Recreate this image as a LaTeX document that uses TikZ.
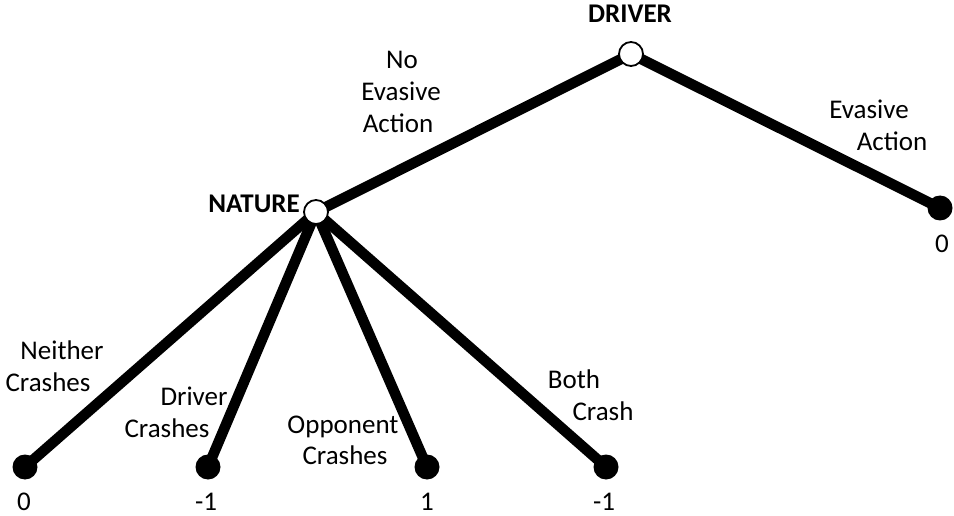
\documentclass[tikz,border=0pt]{standalone}
\usepackage{fontspec}
\setmainfont{Carlito}
\begin{document}
\begin{tikzpicture}[x=1pt,y=-1pt,
  branch/.style={line width=10.5pt},
  decision/.style={circle,draw=black,fill=white,line width=1.8pt,minimum size=24pt,inner sep=0pt},
  leaf/.style={circle,fill=black,minimum size=25pt,inner sep=0pt},
  lbl/.style={font=\fontsize{27}{32}\selectfont,inner sep=0pt,anchor=base},
  playername/.style={font=\fontsize{27}{32}\selectfont\bfseries,inner sep=0pt,anchor=base}]
\useasboundingbox (0,0) rectangle (954,516);

% decision nodes
\coordinate (driver) at (631,54);
\coordinate (nature) at (316,212);
% terminal nodes
\coordinate (evade) at (940,208);
\coordinate (l1) at (25,467);
\coordinate (l2) at (208,467);
\coordinate (l3) at (427,467);
\coordinate (l4) at (606,467);

% branches
\draw[branch] (driver) -- (nature);
\draw[branch] (driver) -- (evade);
\foreach \t in {l1,l2,l3,l4} \draw[branch] (nature) -- (\t);

\node[decision] (dn) at (driver) {};
\node[decision] (nn) at (nature) {};
\node[leaf] (ev) at (evade) {};
\node[leaf] (n1) at (l1) {};
\node[leaf] (n2) at (l2) {};
\node[leaf] (n3) at (l3) {};
\node[leaf] (n4) at (l4) {};

% player names
\node[playername] (dlab) at (630,23) {DRIVER};
\node[playername,anchor=base east] (nlab) at (300,212) {NATURE};

% branch labels, one node per line
\node[lbl] (a1a) at (402,69) {No};
\node[lbl] (a1b) at (401,101) {Evasive};
\node[lbl] (a1c) at (398,133) {Action};
\node[lbl] (a2a) at (869,119) {Evasive};
\node[lbl] (a2b) at (892,151) {Action};
\node[lbl] (b1a) at (62,359) {Neither};
\node[lbl] (b1b) at (48,391) {Crashes};
\node[lbl] (b2a) at (194,405) {Driver};
\node[lbl] (b2b) at (167,437) {Crashes};
\node[lbl] (b3a) at (343,433) {Opponent};
\node[lbl] (b3b) at (345,464) {Crashes};
\node[lbl] (b4a) at (574,388) {Both};
\node[lbl] (b4b) at (603,420) {Crash};

% payoffs
\node[lbl] (p0) at (942,252) {0};
\node[lbl] (p1) at (24,510) {0};
\node[lbl] (p2) at (206,510) {-1};
\node[lbl] (p3) at (427,510) {1};
\node[lbl] (p4) at (604,510) {-1};
\end{tikzpicture}
\end{document}
